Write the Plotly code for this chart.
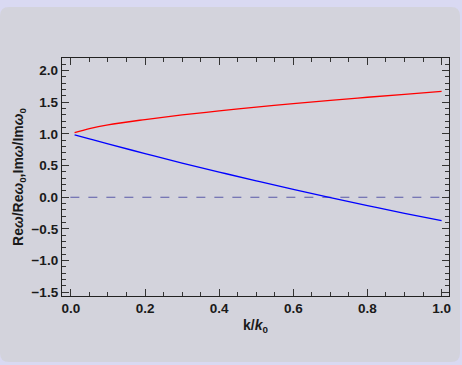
import plotly.graph_objects as go

k = [0.01, 0.05, 0.1, 0.2, 0.3, 0.4, 0.5, 0.6, 0.7, 0.8, 0.9, 1.0]
re_ratio = [1.02, 1.085, 1.145, 1.228, 1.30, 1.364, 1.425, 1.48, 1.53, 1.58, 1.626, 1.672]
im_ratio = [0.984, 0.921, 0.843, 0.690, 0.541, 0.398, 0.259, 0.124, -0.007, -0.132, -0.253, -0.37]
ref_x = [-0.05, 1.05]
ref_y = [0.0, 0.0]

W, H = 462, 365
L, R, T, B = 62, 13, 58, 69
pw, ph = W - L - R, H - T - B

def px(x):
    return (x - L) / pw

def py(y):
    return (H - B - y) / ph

fig = go.Figure()
fig.add_trace(go.Scatter(x=ref_x, y=ref_y, mode="lines",
                         line=dict(color="#5a5aa8", width=1.2, dash="dash"),
                         showlegend=False))
fig.add_trace(go.Scatter(x=k, y=re_ratio, mode="lines", line_shape="spline",
                         line=dict(color="#ff0000", width=1.3), showlegend=False))
fig.add_trace(go.Scatter(x=k, y=im_ratio, mode="lines", line_shape="spline",
                         line=dict(color="#0000ff", width=1.3), showlegend=False))

# rounded panel
x0, x1, y0, y1, r = 0, 460, 7, 362, 9
path = (f"M {px(x0+r)},{py(y0)} L {px(x1-r)},{py(y0)} "
        f"Q {px(x1)},{py(y0)} {px(x1)},{py(y0+r)} L {px(x1)},{py(y1-r)} "
        f"Q {px(x1)},{py(y1)} {px(x1-r)},{py(y1)} L {px(x0+r)},{py(y1)} "
        f"Q {px(x0)},{py(y1)} {px(x0)},{py(y1-r)} L {px(x0)},{py(y0+r)} "
        f"Q {px(x0)},{py(y0)} {px(x0+r)},{py(y0)} Z")
fig.add_shape(type="path", path=path, xref="paper", yref="paper",
              fillcolor="#d3d3dc", line=dict(width=0), layer="below")

tickfont = dict(family="Liberation Sans, Arial, sans-serif", size=13.5, color="#1a1a1a", weight="bold")
titlefont = dict(family="Liberation Sans, Arial, sans-serif", size=14, color="#1a1a1a", weight="bold")
axis_common = dict(showline=True, linecolor="#222222", linewidth=1.3, mirror="ticks",
                   ticks="inside", ticklen=7, tickwidth=1.2, tickcolor="#333333",
                   showgrid=False, zeroline=False, tickfont=tickfont)

fig.update_xaxes(range=[-0.024, 1.02], tickvals=[0, 0.2, 0.4, 0.6, 0.8, 1.0],
                 ticktext=["0.0", "0.2", "0.4", "0.6", "0.8", "1.0"],
                 minor=dict(dtick=0.05, tick0=0, ticks="inside", ticklen=4, tickwidth=1, tickcolor="#333333"),
                 title=dict(text="k/<i>k</i><sub>0</sub>", font=titlefont, standoff=4),
                 **axis_common)
fig.update_yaxes(range=[-1.56, 2.2], tickvals=[-1.5, -1.0, -0.5, 0, 0.5, 1.0, 1.5, 2.0],
                 ticktext=["\u22121.5", "\u22121.0", "\u22120.5", "0.0", "0.5", "1.0", "1.5", "2.0"],
                 minor=dict(dtick=0.1, tick0=0, ticks="inside", ticklen=4, tickwidth=1, tickcolor="#333333"),
                 title=dict(text="Re<i>\u03c9</i>/Re<i>\u03c9</i><sub>0</sub>,Im<i>\u03c9</i>/Im<i>\u03c9</i><sub>0</sub>",
                            font=titlefont, standoff=4),
                 **axis_common)

fig.update_layout(width=W, height=H, margin=dict(l=L, r=R, t=T, b=B, autoexpand=False),
                  paper_bgcolor="#d9d9f2", plot_bgcolor="rgba(0,0,0,0)")

fig.write_html("out.html", config={"displayModeBar": False},
               post_script="document.body.style.margin='0';document.body.style.padding='0';"
                           "document.body.style.overflow='hidden';document.body.style.background='#d9d9f2';")
